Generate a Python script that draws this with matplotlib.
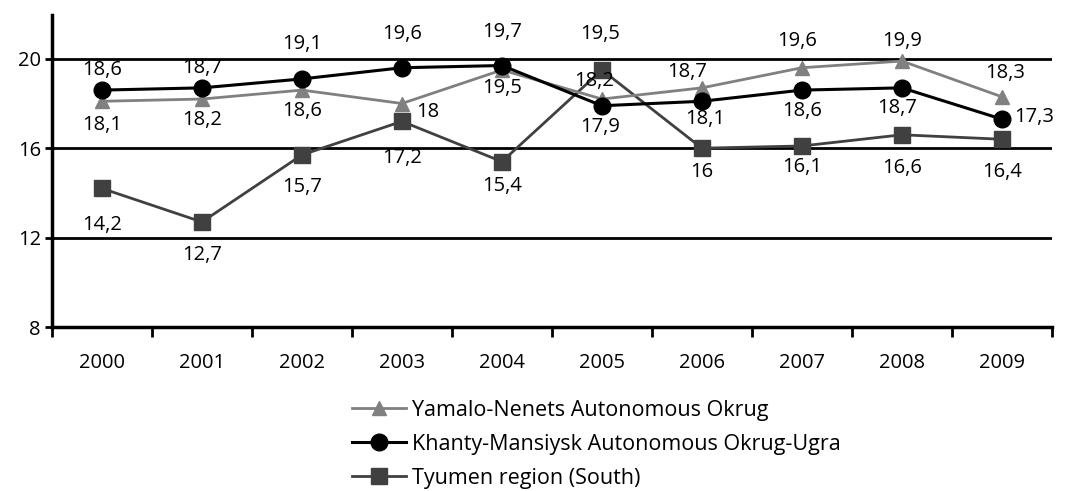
import numpy as np
import matplotlib.pyplot as plt

plt.rcParams['font.family'] = ['Open Sans', 'DejaVu Sans']

# --- data ---
years = ['2000', '2001', '2002', '2003', '2004', '2005', '2006', '2007', '2008', '2009']
yamalo = [18.1, 18.2, 18.6, 18.0, 19.5, 18.2, 18.7, 19.6, 19.9, 18.3]
khanty = [18.6, 18.7, 19.1, 19.6, 19.7, 17.9, 18.1, 18.6, 18.7, 17.3]
tyumen = [14.2, 12.7, 15.7, 17.2, 15.4, 19.5, 16.0, 16.1, 16.6, 16.4]
names = ['Yamalo-Nenets Autonomous Okrug',
         'Khanty-Mansiysk Autonomous Okrug-Ugra',
         'Tyumen region (South)']

# label offsets in pixels (dx, dy), positive dy = up
off_yamalo = [(0, -24), (0, -21), (0, -21), (26, -8), (0, -18),
              (-8, 18), (-15, 16), (-5, 27), (0, 20), (3, 24)]
off_khanty = [(0, 20), (0, 20), (0, 35), (0, 34), (0, 34),
              (-2, -21), (3, -18), (0, -21), (-5, -20), (32, 2)]
off_tyumen = [(0, -37), (0, -33), (0, -32), (0, -37), (0, -24),
              (-2, 36), (0, -24), (0, -21), (0, -33), (0, -33)]

def fmt(v):
    return ('%g' % v).replace('.', ',')

x = np.arange(len(years))

fig = plt.figure(figsize=(10.74, 4.91), dpi=100)
ax = fig.add_axes([0.0484, 0.334, 0.931, 0.635])

for v in [12, 16, 20]:
    ax.axhline(v, color='black', lw=2, zorder=1)

ax.plot(x, yamalo, color='#808080', lw=2, marker='^', ms=10, label=names[0], zorder=3)
ax.plot(x, khanty, color='black', lw=2.2, marker='o', ms=12, label=names[1], zorder=4)
ax.plot(x, tyumen, color='#404040', lw=2, marker='s', ms=12, label=names[2], zorder=2)

for vals, offs in [(yamalo, off_yamalo), (khanty, off_khanty), (tyumen, off_tyumen)]:
    for xi, v, (dx, dy) in zip(x, vals, offs):
        ax.annotate(fmt(v), (xi, v), xytext=(dx, dy), textcoords='offset pixels',
                    ha='center', va='center', fontsize=14.5, zorder=6)

ax.set_xlim(-0.5, 9.5)
ax.set_ylim(8, 21.95)
ax.set_yticks([8, 12, 16, 20])
ax.set_xticks(x)
ax.set_xticklabels(years)
ax.set_xticks(np.arange(-0.5, 10, 1), minor=True)
ax.tick_params(axis='x', which='major', length=0, pad=19, labelsize=14.5)
ax.tick_params(axis='x', which='minor', length=7, width=2, direction='out')
ax.tick_params(axis='y', length=5, width=2, labelsize=14.5, pad=3)
for s in ['top', 'right']:
    ax.spines[s].set_visible(False)
for s in ['left', 'bottom']:
    ax.spines[s].set_linewidth(2.5)

fig.legend(loc='upper center', bbox_to_anchor=(0.555, 0.186), frameon=False,
           fontsize=15.5, handlelength=2.5, handletextpad=0.28, labelspacing=0.6,
           borderaxespad=0, borderpad=0)

fig.savefig('out.png', dpi=100)
